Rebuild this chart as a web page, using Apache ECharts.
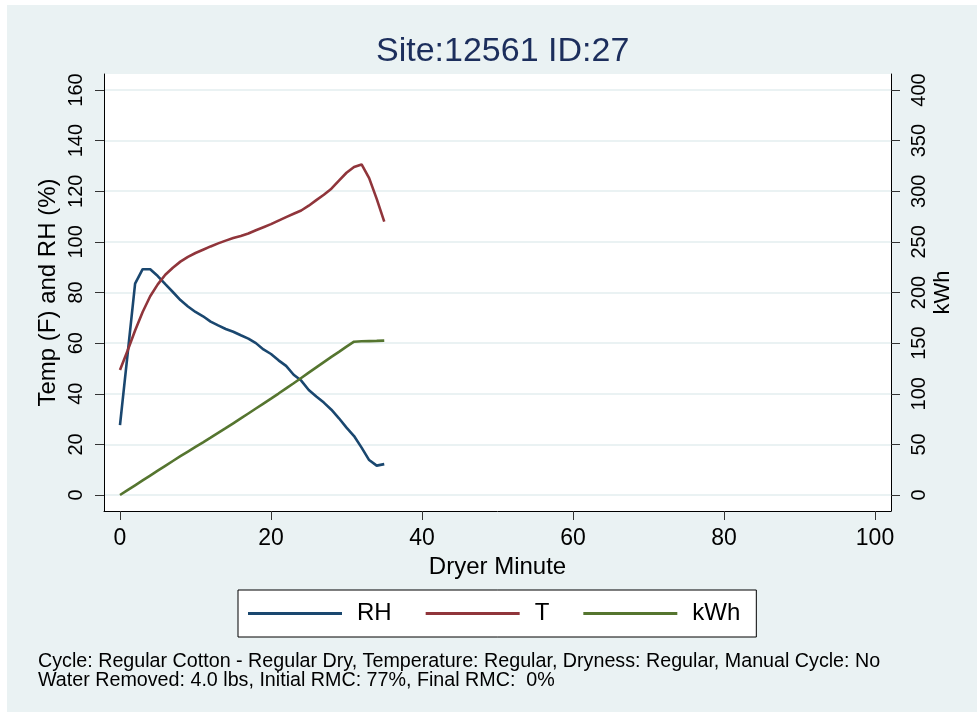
<!DOCTYPE html>
<html>
<head>
<meta charset="utf-8">
<script src="https://cdn.jsdelivr.net/npm/echarts@6/dist/echarts.min.js"></script>
<style>
html,body{margin:0;padding:0;background:#fff;}
#chart{width:977px;height:715px;}
</style>
</head>
<body>
<div id="chart"></div>
<script>
// ---- data ----
const minutes = [0,1,2,3,4,5,6,7,8,9,10,11,12,13,14,15,16,17,18,19,20,21,22,23,24,25,26,27,28,29,30,31,32,33,34,35];
const rhValues = [27.6,55.5,83.5,89.2,89.2,86.5,83.3,80.2,77,74.5,72.3,70.6,68.5,67,65.6,64.5,63.1,61.8,60,57.5,55.7,53.2,51,47.5,45.2,41.5,38.9,36.5,33.7,30.3,26.6,23.3,18.7,13.8,11.6,12.2];
const tValues = [49.4,57,65,72.3,78.5,83.2,87,89.8,92.2,94.1,95.6,96.9,98.2,99.4,100.5,101.5,102.3,103.3,104.6,105.8,107,108.4,109.8,111.1,112.4,114.3,116.5,118.6,121,124.2,127.3,129.6,130.6,125.2,117,108];
const kwhValues = [0,4.8,9.6,14.4,19.2,24.0,28.8,33.6,38.3,42.9,47.5,52.0,56.6,61.3,66.0,70.8,75.6,80.5,85.4,90.3,95.2,100.2,105.3,110.4,115.6,120.8,126.0,131.2,136.4,141.4,146.5,151.4,151.8,152,152.2,152.5];
const xTicks = [0,20,40,60,80,100];
const leftTicks = [0,20,40,60,80,100,120,140,160];
const rightTicks = [0,50,100,150,200,250,300,350,400];
const seriesNames = ['RH','T','kWh'];
const titleText = 'Site:12561 ID:27';
const noteLines = [
  'Cycle: Regular Cotton - Regular Dry, Temperature: Regular, Dryness: Regular, Manual Cycle: No',
  'Water Removed: 4.0 lbs, Initial RMC: 77%, Final RMC:  0%'
];

const FONT = "'Liberation Sans', Arial, sans-serif";
const colors = ['#1a476f', '#90353b', '#55752f'];

// axis padding (Stata-like range extension)
const xPad = 2.119, lPad = 6.32, rPad = 15.8;

const pair = (ys) => minutes.map((m, i) => [m, ys[i]]);

const chart = echarts.init(document.getElementById('chart'), null, {renderer: 'canvas'});
chart.setOption({
  animation: false,
  backgroundColor: '#ffffff',
  color: colors,
  graphic: [
    {type: 'rect', z: -10, silent: true, shape: {x: 7, y: 5, width: 970, height: 707}, style: {fill: '#eaf2f3'}},
    {type: 'text', left: 38, top: 652, z: 10, style: {text: noteLines.join('\n'), font: '19.7px ' + FONT, fill: '#000', lineHeight: 19}}
  ],
  title: {
    text: titleText, left: 371, top: 30,
    textStyle: {fontFamily: FONT, fontSize: 34, fontWeight: 'normal', color: '#1c2e5c'}
  },
  legend: {
    data: seriesNames, left: 238, top: 590, orient: 'horizontal', icon: 'rect',
    backgroundColor: '#fff', borderColor: '#000', borderWidth: 1,
    padding: [10, 16, 10, 10], itemGap: 34, itemWidth: 94, itemHeight: 3,
    textStyle: {fontFamily: FONT, fontSize: 24, color: '#000', padding: [0, 0, 0, 10], lineHeight: 27}
  },
  grid: {left: 104, top: 74, right: 86, bottom: 204, show: true, backgroundColor: '#fff', borderWidth: 0, containLabel: false},
  xAxis: {
    type: 'value', min: -xPad, max: 100 + xPad,
    name: 'Dryer Minute', nameLocation: 'middle', nameGap: 40,
    nameTextStyle: {fontFamily: FONT, fontSize: 24, color: '#000'},
    axisLine: {show: true, onZero: false, lineStyle: {color: '#000', width: 1}},
    axisTick: {show: true, length: 9, customValues: xTicks, lineStyle: {color: '#333'}},
    axisLabel: {customValues: xTicks, margin: 16, fontFamily: FONT, fontSize: 23, color: '#000'},
    splitLine: {show: false}
  },
  yAxis: [
    {
      type: 'value', position: 'left', min: -lPad, max: 160 + lPad,
      name: 'Temp (F) and RH (%)', nameLocation: 'middle', nameGap: 44, nameRotate: 90, nameMoveOverlap: false,
      nameTextStyle: {fontFamily: FONT, fontSize: 24, color: '#000'},
      axisLine: {show: true, onZero: false, lineStyle: {color: '#000', width: 1}},
      axisTick: {show: true, length: 9, customValues: leftTicks, lineStyle: {color: '#333'}},
      axisLabel: {customValues: leftTicks, rotate: 90, margin: 18, fontFamily: FONT, fontSize: 20, color: '#000'},
      splitLine: {show: true, lineStyle: {color: '#eaf2f3', width: 2}}
    },
    {
      type: 'value', position: 'right', min: -rPad, max: 400 + rPad,
      name: 'kWh', nameLocation: 'middle', nameGap: 41, nameRotate: 90, nameMoveOverlap: false,
      nameTextStyle: {fontFamily: FONT, fontSize: 22, color: '#000'},
      axisLine: {show: true, onZero: false, lineStyle: {color: '#000', width: 1}},
      axisTick: {show: true, length: 9, customValues: rightTicks, lineStyle: {color: '#333'}},
      axisLabel: {customValues: rightTicks, rotate: 90, margin: 18, fontFamily: FONT, fontSize: 20, color: '#000'},
      splitLine: {show: false}
    }
  ],
  series: [
    {name: seriesNames[0], type: 'line', yAxisIndex: 0, data: pair(rhValues), symbol: 'none', lineStyle: {width: 2.6, color: colors[0]}, itemStyle: {color: colors[0]}},
    {name: seriesNames[1], type: 'line', yAxisIndex: 0, data: pair(tValues), symbol: 'none', lineStyle: {width: 2.6, color: colors[1]}, itemStyle: {color: colors[1]}},
    {name: seriesNames[2], type: 'line', yAxisIndex: 1, data: pair(kwhValues), symbol: 'none', lineStyle: {width: 2.6, color: colors[2]}, itemStyle: {color: colors[2]}}
  ]
});
</script>
</body>
</html>
